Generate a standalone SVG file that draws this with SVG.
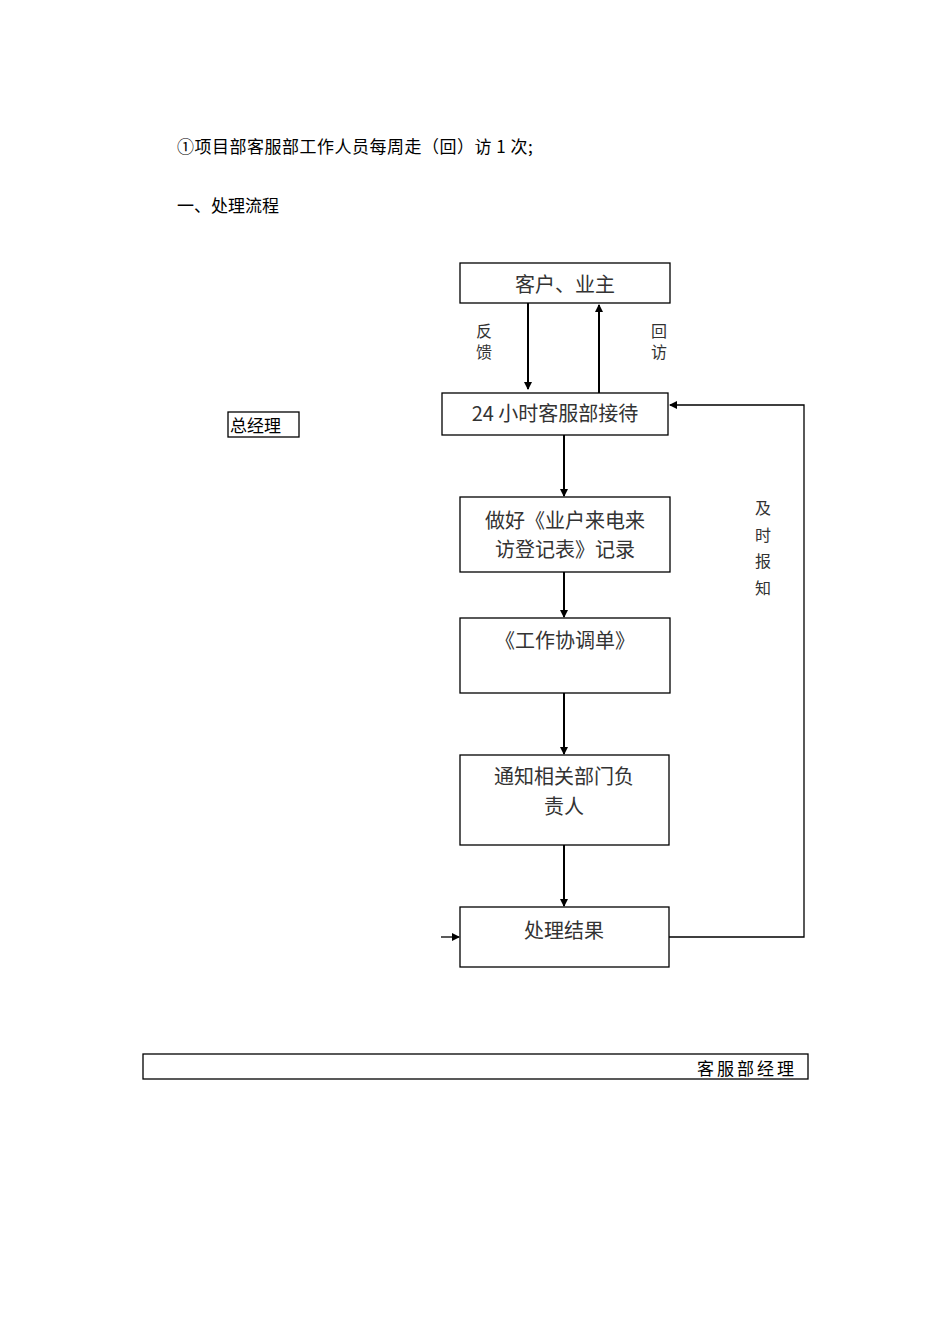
<svg xmlns="http://www.w3.org/2000/svg" width="950" height="1344" viewBox="0 0 950 1344">
<style>
.b{fill:#fff;stroke:#000;stroke-width:1.3}
.t{font-family:"Noto Sans CJK SC","Noto Sans",sans-serif;font-size:20px;fill:#333;text-anchor:middle}
.v{font-family:"Noto Sans CJK SC","Noto Sans",sans-serif;font-size:16px;fill:#333;text-anchor:middle}
.s{font-family:"Noto Sans CJK SC",serif;font-size:17px;fill:#000}
.l{stroke:#000;stroke-width:2;fill:none}
.f{stroke:#000;stroke-width:1.3;fill:none}
</style>
<defs><marker id="a" markerWidth="8" markerHeight="8" refX="7" refY="4" orient="auto" markerUnits="userSpaceOnUse"><path d="M0,0L8,4L0,8z" fill="#000"/></marker></defs>
<rect width="950" height="1344" fill="#fff"/>
<text class="s" x="177" y="153" letter-spacing="0.5">①项目部客服部工作人员每周走（回）访 1 次;</text>
<text class="s" x="177" y="212">一、处理流程</text>
<g id="n1"><rect class="b" x="460" y="263" width="210" height="40"/><text class="t" x="565" y="292">客户、业主</text></g>
<g id="n2"><rect class="b" x="442" y="393" width="226" height="42"/><text class="t" x="555" y="421">24 小时客服部接待</text></g>
<g id="n3"><rect class="b" x="460" y="497" width="210" height="75"/><text class="t" x="565" y="528">做好《业户来电来</text><text class="t" x="565" y="557">访登记表》记录</text></g>
<g id="n4"><rect class="b" x="460" y="618" width="210" height="75"/><text class="t" x="565" y="648">《工作协调单》</text></g>
<g id="n5"><rect class="b" x="460" y="755" width="209" height="90"/><text class="t" x="564" y="784">通知相关部门负</text><text class="t" x="564" y="814">责人</text></g>
<g id="n6"><rect class="b" x="460" y="907" width="209" height="60"/><text class="t" x="564" y="938">处理结果</text></g>
<g id="n7"><rect class="b" x="228" y="412" width="71" height="25"/><text class="s" x="230" y="432" font-size="19">总经理</text></g>
<g id="n8"><rect class="b" x="143" y="1054" width="665" height="25"/><text class="s" x="697" y="1075" font-size="19" letter-spacing="3">客服部经理</text></g>
<g id="c">
<path class="l" d="M528 303V389" marker-end="url(#a)"/>
<path class="l" d="M599 393V305" marker-end="url(#a)"/>
<path class="l" d="M564 435V496" marker-end="url(#a)"/>
<path class="l" d="M564 572V617" marker-end="url(#a)"/>
<path class="l" d="M564 693V754" marker-end="url(#a)"/>
<path class="l" d="M564 845V906" marker-end="url(#a)"/>
<path class="f" d="M669 937H804V405H670" marker-end="url(#a)"/>
<path class="f" d="M441 937H459" marker-end="url(#a)"/>
<text class="v" x="484" y="337">反</text><text class="v" x="484" y="358">馈</text>
<text class="v" x="659" y="337">回</text><text class="v" x="659" y="358">访</text>
<text class="v" x="763" y="514">及</text><text class="v" x="763" y="541">时</text><text class="v" x="763" y="567">报</text><text class="v" x="763" y="594">知</text>
</g>
</svg>
